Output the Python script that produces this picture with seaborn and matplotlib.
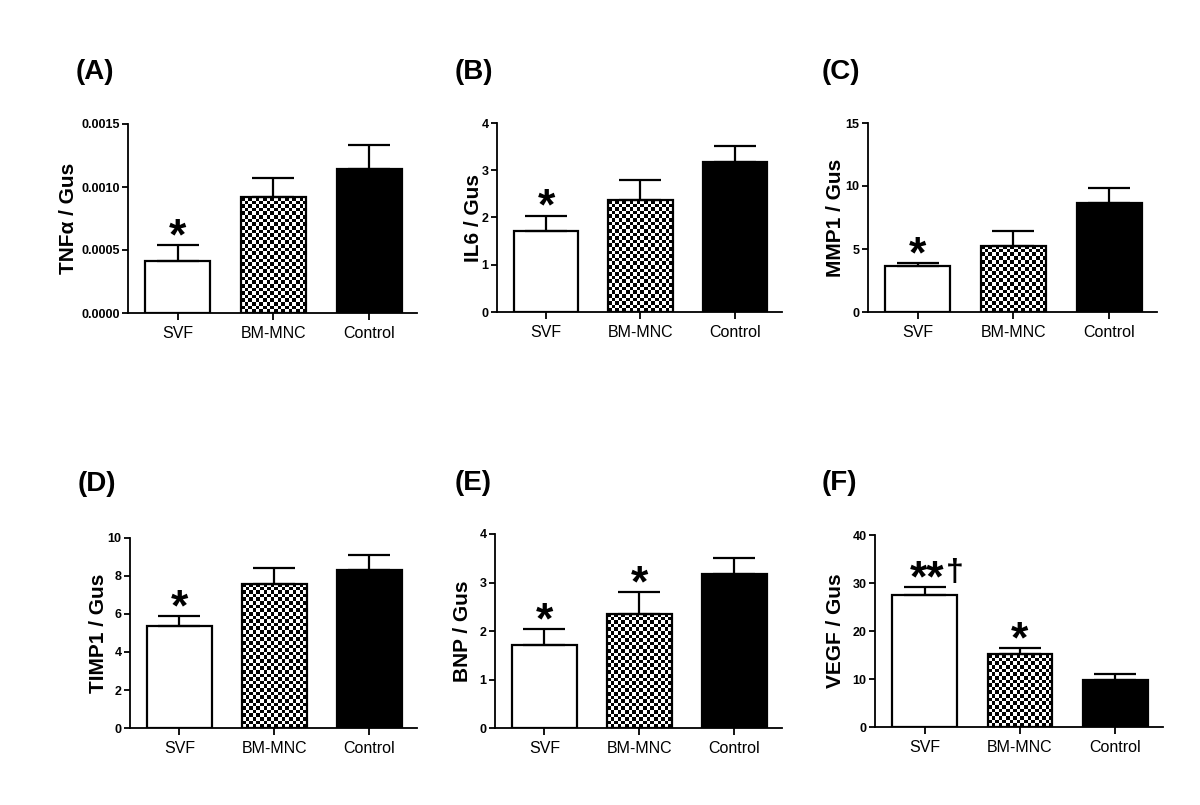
import numpy as np
import pandas as pd
import matplotlib
matplotlib.use('Agg')
import matplotlib.pyplot as plt
import seaborn as sns

# groups and panel texts
groups = ['SVF', 'BM-MNC', 'Control']
panel_letters = ['(A)', '(B)', '(C)', '(D)', '(E)', '(F)']
y_labels = ['TNFα / Gus', 'IL6 / Gus', 'MMP1 / Gus', 'TIMP1 / Gus', 'BNP / Gus', 'VEGF / Gus']

# values (mean, SEM)
tnfa_mean = [0.00041, 0.00092, 0.00114]
tnfa_sem = [0.00013, 0.00015, 0.00019]
il6_mean = [1.72, 2.36, 3.18]
il6_sem = [0.32, 0.44, 0.33]
mmp1_mean = [3.65, 5.25, 8.62]
mmp1_sem = [0.25, 1.17, 1.22]
timp1_mean = [5.35, 7.60, 8.30]
timp1_sem = [0.55, 0.82, 0.82]
bnp_mean = [1.72, 2.36, 3.18]
bnp_sem = [0.32, 0.44, 0.33]
vegf_mean = [27.5, 15.2, 9.75]
vegf_sem = [1.7, 1.2, 1.2]

# y axis ticks
y_max = [0.0015, 4, 15, 10, 4, 40]
y_step = [0.0005, 1, 5, 2, 1, 10]
y_decimals = [4, 0, 0, 0, 0, 0]

# significance marks above each bar
signif = [['*', '', ''], ['*', '', ''], ['*', '', ''],
          ['*', '', ''], ['*', '*', ''], ['**†', '*', '']]

means = [tnfa_mean, il6_mean, mmp1_mean, timp1_mean, bnp_mean, vegf_mean]
sems = [tnfa_sem, il6_sem, mmp1_sem, timp1_sem, bnp_sem, vegf_sem]

# layout in pixels: left, top, width, height
W, H = 1200, 805
axes_px = [(128, 124, 289, 189), (497, 123, 285, 189), (868, 123, 289, 189),
           (130, 538, 287, 190), (495, 534, 287, 194), (875, 535, 288, 192)]
label_px = [78, 483, 845, 108, 472, 845]
letter_px = [(76, 72), (455, 72), (822, 72), (78, 484), (455, 483), (822, 483)]

sns.set_style('ticks')
plt.rcParams['font.family'] = ['Liberation Sans', 'DejaVu Sans']
for key in ['text.color', 'axes.labelcolor', 'xtick.color', 'ytick.color', 'axes.edgecolor']:
    plt.rcParams[key] = 'black'


def checker_fill(ax, bar, cell=3.6):
    bb = bar.get_window_extent()
    ncol = max(1, int(round(bb.width / cell)))
    nrow = max(1, int(round(bb.height / cell)))
    board = np.indices((nrow, ncol)).sum(axis=0) % 2
    x0, y0 = bar.get_x(), bar.get_y()
    ax.imshow(board, cmap='gray', vmin=0, vmax=1, aspect='auto', interpolation='nearest',
              extent=[x0, x0 + bar.get_width(), y0, y0 + bar.get_height()],
              clip_path=bar, zorder=1.5)
    bar.set_facecolor('none')
    bar.set_zorder(2)


fig = plt.figure(figsize=(W / 100, H / 100), dpi=100)

for i in range(6):
    l, t, w, h = axes_px[i]
    ax = fig.add_axes([l / W, 1 - (t + h) / H, w / W, h / H])
    df = pd.DataFrame({'group': groups, 'value': means[i]})
    sns.barplot(data=df, x='group', y='value', hue='group', palette=['white', 'white', 'black'],
                legend=False, errorbar=None, width=0.68, edgecolor='black', linewidth=1.6,
                saturation=1, ax=ax)
    xs = np.arange(len(groups))
    ax.errorbar(xs, means[i], yerr=[np.zeros(len(groups)), sems[i]], fmt='none',
                ecolor='black', elinewidth=1.6, capsize=15, capthick=1.6, zorder=3)

    ticks = np.arange(0, y_max[i] + y_step[i] / 2, y_step[i])
    ax.set_ylim(0, y_max[i])
    ax.set_xlim(-0.52, 2.5)
    ax.set_yticks(ticks, labels=[f'{v:.{y_decimals[i]}f}' for v in ticks], fontweight='bold')

    checker_fill(ax, ax.patches[1])
    ax.set_ylim(0, y_max[i])
    ax.set_xlim(-0.52, 2.5)

    sns.despine(ax=ax)
    for s in ['left', 'bottom']:
        ax.spines[s].set_linewidth(1.3)
    ax.tick_params(axis='y', length=4, width=1.3, labelsize=9, pad=2)
    ax.tick_params(axis='x', length=5, width=1.3, labelsize=11.5, pad=4)
    ax.set_xlabel('')
    ax.set_ylabel(y_labels[i], fontsize=15, fontweight='bold')
    ax.yaxis.set_label_coords((label_px[i] - l) / w, 0.5)

    for j, mark in enumerate(signif[i]):
        if not mark:
            continue
        top = means[i][j] + sems[i][j]
        stars = mark.rstrip('†')
        ax.annotate(stars, xy=(xs[j], top), xytext=(1.5 if len(stars) > 1 else 0, -3),
                    textcoords='offset points', ha='center', va='baseline',
                    fontsize=32, fontweight='bold')
        if mark.endswith('†'):
            ax.annotate('†', xy=(xs[j], top), xytext=(15, 4), textcoords='offset points',
                        ha='left', va='baseline', fontsize=23, fontweight='bold')

    fig.text(letter_px[i][0] / W, 1 - letter_px[i][1] / H, panel_letters[i],
             ha='left', va='center', fontsize=20, fontweight='bold')

fig.savefig('out.png', dpi=100)
